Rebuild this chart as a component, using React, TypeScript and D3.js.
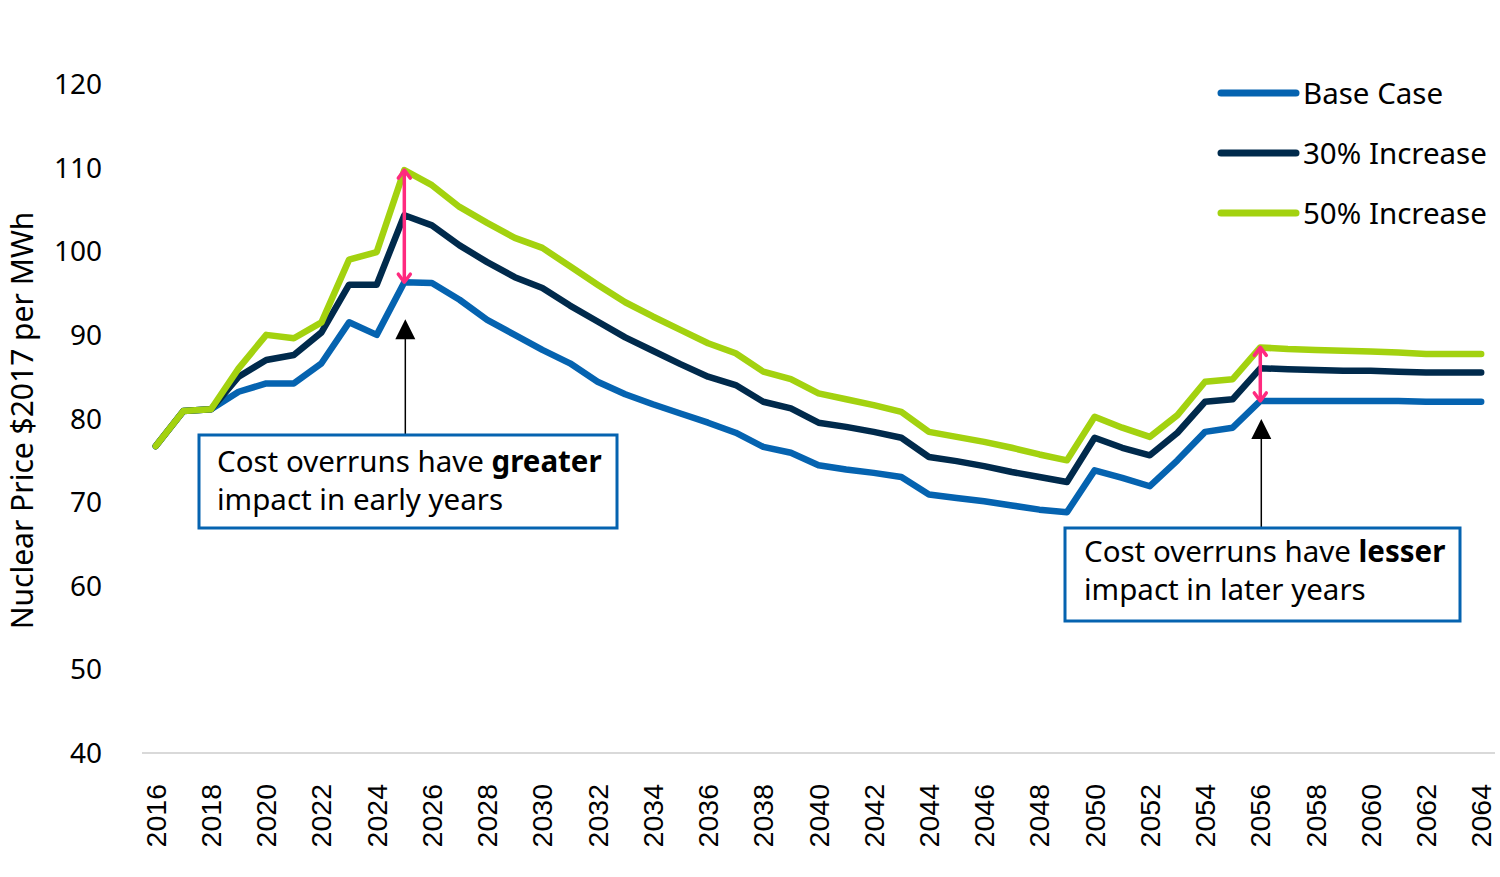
import React from "react"
import * as d3 from "d3"

const years = d3.range(2016, 2065)

const baseCase = [
  76.7, 80.9, 81.1, 83.2, 84.2, 84.2, 86.6, 91.5, 90.0, 96.3,
  96.2, 94.2, 91.8, 90.0, 88.2, 86.6, 84.4, 82.9, 81.7, 80.6,
  79.5, 78.3, 76.6, 75.9, 74.4, 73.9, 73.5, 73.0, 70.9, 70.5,
  70.1, 69.6, 69.1, 68.8, 73.8, 72.9, 71.9, 75.0, 78.4, 78.9,
  82.1, 82.1, 82.1, 82.1, 82.1, 82.1, 82.0, 82.0, 82.0,
]

const increase30 = [
  76.7, 80.9, 81.1, 85.0, 87.0, 87.6, 90.3, 96.0, 96.0, 104.3,
  103.1, 100.7, 98.7, 96.9, 95.6, 93.5, 91.6, 89.7, 88.1, 86.5,
  85.0, 84.0, 82.0, 81.2, 79.5, 79.0, 78.4, 77.7, 75.4, 74.9,
  74.3, 73.6, 73.0, 72.4, 77.7, 76.5, 75.6, 78.3, 82.0, 82.3,
  86.0, 85.9, 85.8, 85.7, 85.7, 85.6, 85.5, 85.5, 85.5,
]

const increase50 = [
  76.7, 80.9, 81.1, 86.0, 90.0, 89.6, 91.5, 99.0, 99.9, 109.7,
  107.9, 105.3, 103.4, 101.6, 100.4, 98.2, 96.0, 93.9, 92.2, 90.6,
  89.0, 87.8, 85.6, 84.7, 83.0, 82.3, 81.6, 80.8, 78.4, 77.8,
  77.2, 76.5, 75.7, 75.0, 80.2, 78.9, 77.8, 80.4, 84.4, 84.7,
  88.5, 88.3, 88.2, 88.1, 88.0, 87.9, 87.7, 87.7, 87.7,
]

const yTicks = [40, 50, 60, 70, 80, 90, 100, 110, 120]
const xTickYears = years.filter((y) => (y - 2016) % 2 === 0)

const series = [
  { name: "Base Case", values: baseCase, color: "#0563B0" },
  { name: "30% Increase", values: increase30, color: "#002A4C" },
  { name: "50% Increase", values: increase50, color: "#A3D20F" },
]

// gap arrows at the two highlighted years
const gapYears = [2025, 2056]

const W = 1500
const H = 877
const FONT = "'Noto Sans', 'Open Sans', sans-serif"
const PINK = "#FF2A7F"
const BOX = "#0563B0"
const TXT = 29.5

export default function App() {
  const x = d3.scalePoint<number>().domain(years).range([142, 1495]).padding(0.5)
  const y = d3.scaleLinear().domain([40, 120]).range([753, 84])

  const line = d3
    .line<number>()
    .x((_, i) => x(years[i]) as number)
    .y((d) => y(d))

  const valueAt = (arr: number[], yr: number) => arr[years.indexOf(yr)]

  return (
    <svg width={W} height={H} style={{ display: "block", position: "absolute", left: 0, top: 0, background: "#fff" }}>
      {/* y axis labels */}
      {yTicks.map((t) => (
        <text key={t} x={102} y={y(t)} dy="0.36em" textAnchor="end" fontSize={28} fontFamily={FONT} fill="#000">
          {t}
        </text>
      ))}
      <text
        transform={`translate(33,${y(80) + 2}) rotate(-90)`}
        textAnchor="middle"
        fontSize={30}
        fontFamily={FONT}
        fill="#000"
      >
        Nuclear Price $2017 per MWh
      </text>

      {/* x axis */}
      <line x1={142} x2={1495} y1={y(40)} y2={y(40)} stroke="#D9D9D9" strokeWidth={2} />
      {xTickYears.map((yr) => (
        <text
          key={yr}
          transform={`translate(${(x(yr) as number) + 10},784) rotate(-90)`}
          textAnchor="end"
          fontSize={28.5}
          fontFamily="'Liberation Sans', Arial, sans-serif"
          fill="#000"
        >
          {yr}
        </text>
      ))}

      {/* series */}
      {series.map((s) => (
        <path
          key={s.name}
          d={line(s.values) ?? ""}
          fill="none"
          stroke={s.color}
          strokeWidth={6.5}
          strokeLinejoin="round"
          strokeLinecap="round"
        />
      ))}

      {/* gap arrows */}
      {gapYears.map((yr) => {
        const cx = x(yr) as number
        const top = y(valueAt(increase50, yr))
        const bot = y(valueAt(baseCase, yr))
        return (
          <g key={yr} stroke={PINK} strokeWidth={3.5} fill="none" strokeLinecap="round" strokeLinejoin="round">
            <line x1={cx} x2={cx} y1={top + 1} y2={bot - 1} />
            <polyline points={`${cx - 6},${top + 8} ${cx},${top} ${cx + 6},${top + 8}`} />
            <polyline points={`${cx - 6},${bot - 8} ${cx},${bot} ${cx + 6},${bot - 8}`} />
          </g>
        )
      })}

      {/* annotation 1 */}
      {(() => {
        const cx = (x(2025) as number) + 1
        const tip = y(valueAt(baseCase, 2025)) + 37
        return (
          <g>
            <line x1={cx} x2={cx} y1={tip + 18} y2={435} stroke="#000" strokeWidth={1.5} />
            <polygon points={`${cx},${tip} ${cx - 10},${tip + 20} ${cx + 10},${tip + 20}`} fill="#000" />
            <rect x={199} y={435} width={418} height={93} fill="#fff" stroke={BOX} strokeWidth={3} />
            <text x={217} y={472} fontSize={TXT} fontFamily={FONT} fill="#000">
              Cost overruns have <tspan fontWeight="bold">greater</tspan>
            </text>
            <text x={217} y={510} fontSize={TXT} fontFamily={FONT} fill="#000">
              impact in early years
            </text>
          </g>
        )
      })()}

      {/* annotation 2 */}
      {(() => {
        const cx = (x(2056) as number) + 1
        const tip = y(valueAt(baseCase, 2056)) + 18
        return (
          <g>
            <line x1={cx} x2={cx} y1={tip + 18} y2={528} stroke="#000" strokeWidth={1.5} />
            <polygon points={`${cx},${tip} ${cx - 10},${tip + 20} ${cx + 10},${tip + 20}`} fill="#000" />
            <rect x={1065} y={528} width={395} height={93} fill="#fff" stroke={BOX} strokeWidth={3} />
            <text x={1084} y={562} fontSize={TXT} fontFamily={FONT} fill="#000">
              Cost overruns have <tspan fontWeight="bold">lesser</tspan>
            </text>
            <text x={1084} y={600} fontSize={TXT} fontFamily={FONT} fill="#000">
              impact in later years
            </text>
          </g>
        )
      })()}

      {/* legend */}
      {series.map((s, i) => (
        <g key={s.name} transform={`translate(0,${93 + i * 60})`}>
          <line x1={1221} x2={1296} y1={0} y2={0} stroke={s.color} strokeWidth={7} strokeLinecap="round" />
          <text x={1303} y={0} dy="0.36em" fontSize={TXT} fontFamily={FONT} fill="#000">
            {s.name}
          </text>
        </g>
      ))}
    </svg>
  )
}
